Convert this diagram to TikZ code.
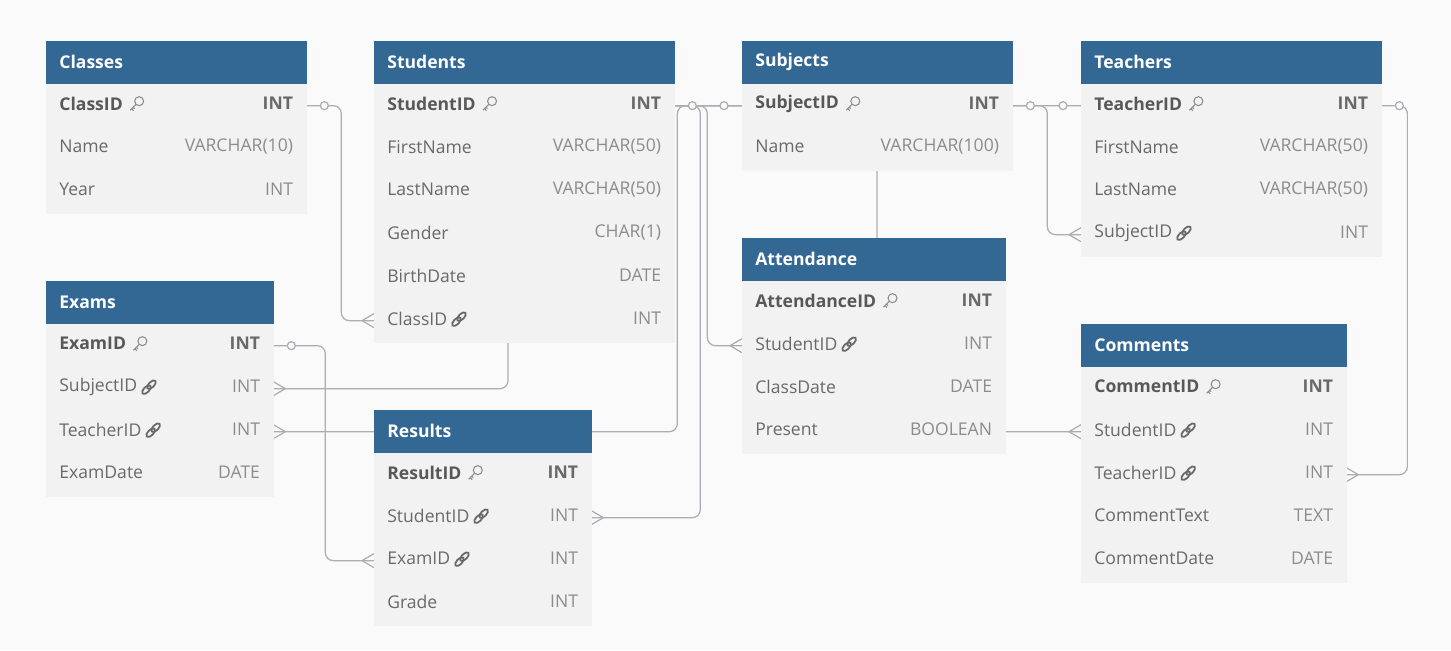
\documentclass[tikz,border=0pt]{standalone}
\usepackage{fontspec}
\setmainfont{Open Sans}
\usetikzlibrary{calc}

\definecolor{bgcol}{RGB}{250,250,250}
\definecolor{headblue}{RGB}{51,103,148}
\definecolor{rowgray}{RGB}{242,242,242}
\definecolor{pkgray}{RGB}{88,88,88}
\definecolor{namegray}{RGB}{105,105,105}
\definecolor{typegray}{RGB}{140,140,140}
\definecolor{linkgray}{RGB}{172,172,180}

\pgfdeclarelayer{back}
\pgfdeclarelayer{links}
\pgfsetlayers{back,links,main}

\tikzset{
	headbox/.style={fill=headblue, draw=headblue, minimum height=0.86cm, inner sep=0},
	headtext/.style={text=white, font=\bfseries\fontsize{10}{12}\selectfont, inner sep=0, anchor=west},
	rowbox/.style={fill=rowgray, draw=rowgray, line width=0.2pt, minimum height=0.86cm, inner sep=0},
	pname/.style={text=pkgray, font=\bfseries\fontsize{10}{12}\selectfont, inner sep=0, anchor=west},
	fname/.style={text=namegray, font=\fontsize{10}{12}\selectfont, inner sep=0, anchor=west},
	nname/.style={text=namegray, font=\fontsize{10}{12}\selectfont, inner sep=0, anchor=west},
	ptype/.style={text=namegray, font=\bfseries\fontsize{10}{12}\selectfont, inner sep=0, anchor=east},
	ftype/.style={text=typegray, font=\fontsize{10}{12}\selectfont, inner sep=0, anchor=east},
	ntype/.style={text=typegray, font=\fontsize{10}{12}\selectfont, inner sep=0, anchor=east},
	conn/.style={draw=linkgray, line width=0.7pt, rounded corners=0.16cm},
	picon/.pic={
		\draw[typegray, line width=0.6pt] (16,-2.5) circle (0.09cm);
		\draw[typegray, line width=0.6pt] (12.8,0.7) -- (7,6.5) (8.5,5) -- (10.5,7) (10,3.5) -- (11.5,5);
	},
	ficon/.pic={
		\draw[namegray, line width=1pt, rotate around={45:(9,3)}] (9,3) ellipse (0.11cm and 0.055cm);
		\draw[namegray, line width=1pt, rotate around={45:(14,-2)}] (14,-2) ellipse (0.11cm and 0.055cm);
	},
	nicon/.pic={},
	crowW/.pic={\draw[conn] (-12,0) -- (0,-7) (-12,0) -- (0,7);},
	crowE/.pic={\draw[conn] (12,0) -- (0,-7) (12,0) -- (0,7);},
	oneE/.pic={\draw[conn, fill=bgcol] (18,0) circle (0.08cm);},
	oneW/.pic={\draw[conn, fill=bgcol] (-18,0) circle (0.08cm);}
}

% one table: name, left, top, width, title, rows
\newcommand\dbtable[6]{%
	\node[headbox, minimum width=#4*0.02cm, anchor=north west] (#1) at (#2,#3) {};
	\node[headtext] at ([xshift=0.26cm,yshift=0.02cm]#1.west) {#5};
	\foreach \i/\n/\t/\k in {#6}{
		\node[rowbox, minimum width=#4*0.02cm, anchor=north west] (#1-\i) at (#2,{#3+43*\i}) {};
		\node[\k name] (#1-\i-n) at ([xshift=0.26cm,yshift=0.04cm]#1-\i.west) {\n};
		\node[\k type] at ([xshift=-0.26cm,yshift=0.04cm]#1-\i.east) {\t};
		\pic at (#1-\i-n.east) {\k icon};
	}
}

\begin{document}
\begin{tikzpicture}[x=0.02cm, y=-0.02cm]
	\useasboundingbox (0,0) rectangle (1451,650);
	\begin{pgfonlayer}{back}
		\fill[bgcol] (0,0) rectangle (1451,650);
	\end{pgfonlayer}

	\dbtable{cls}{46}{41}{260}{Classes}{1/ClassID/INT/p, 2/Name/VARCHAR(10)/n, 3/Year/INT/n}
	\dbtable{stu}{374}{41}{300}{Students}{1/StudentID/INT/p, 2/FirstName/VARCHAR(50)/n, 3/LastName/VARCHAR(50)/n, 4/Gender/CHAR(1)/n, 5/BirthDate/DATE/n, 6/ClassID/INT/f}
	\dbtable{sub}{742}{41}{270}{Subjects}{1/SubjectID/INT/p, 2/Name/VARCHAR(100)/n}
	\dbtable{tea}{1081}{41}{300}{Teachers}{1/TeacherID/INT/p, 2/FirstName/VARCHAR(50)/n, 3/LastName/VARCHAR(50)/n, 4/SubjectID/INT/f}
	\dbtable{att}{742}{238}{263}{Attendance}{1/AttendanceID/INT/p, 2/StudentID/INT/f, 3/ClassDate/DATE/n, 4/Present/BOOLEAN/n}
	\dbtable{exa}{46}{281}{227}{Exams}{1/ExamID/INT/p, 2/SubjectID/INT/f, 3/TeacherID/INT/f, 4/ExamDate/DATE/n}
	\dbtable{res}{374}{410}{217}{Results}{1/ResultID/INT/p, 2/StudentID/INT/f, 3/ExamID/INT/f, 4/Grade/INT/n}
	\dbtable{com}{1081}{324}{265}{Comments}{1/CommentID/INT/p, 2/StudentID/INT/f, 3/TeacherID/INT/f, 4/CommentText/TEXT/n, 5/CommentDate/DATE/n}

	\begin{pgfonlayer}{links}
		\draw[conn] (cls-1.east) -- ++(35,0) |- (stu-6.west);
		\draw[conn] (stu-1.east) -- ++(26,0) |- (res-2.east);
		\draw[conn] (stu-1.east) -- ++(33,0) |- (att-2.west);
		\draw[conn] (exa-3.east) -| ([xshift=0.06cm]stu-1.east) -- (tea-1.west);
		\draw[conn] (exa-2.east) -| (508,0 |- sub-1.west) -- (sub-1.west);
		\draw[conn] (com-2.west) -| (877,0 |- sub-1.west) -- (stu-1.east);
		\draw[conn] (sub-1.east) -- ++(35,0) |- (tea-4.west);
		\draw[conn] (tea-1.east) -- ++(26,0) |- (com-3.east);
		\draw[conn] (exa-1.east) -- ++(52,0) |- (res-3.west);

		\pic at (cls-1.east) {oneE};
		\pic at (stu-1.east) {oneE};
		\pic at (sub-1.west) {oneW};
		\pic at (sub-1.east) {oneE};
		\pic at (tea-1.west) {oneW};
		\pic at (tea-1.east) {oneE};
		\pic at (exa-1.east) {oneE};

		\pic at (stu-6.west) {crowW};
		\pic at (res-3.west) {crowW};
		\pic at (tea-4.west) {crowW};
		\pic at (att-2.west) {crowW};
		\pic at (com-2.west) {crowW};
		\pic at (exa-2.east) {crowE};
		\pic at (exa-3.east) {crowE};
		\pic at (res-2.east) {crowE};
		\pic at (com-3.east) {crowE};
	\end{pgfonlayer}
\end{tikzpicture}
\end{document}
